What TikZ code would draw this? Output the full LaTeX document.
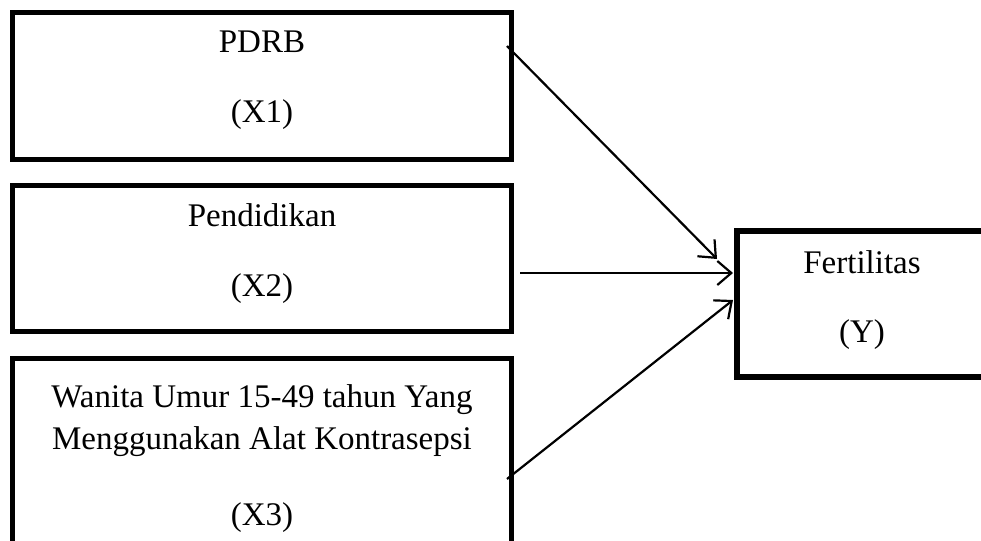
\documentclass[tikz,border=0pt]{standalone}
\usepackage{fontspec}
\setmainfont{Liberation Serif}
\usetikzlibrary{arrows.meta}
\begin{document}
\begin{tikzpicture}[x=1pt,y=-1pt,
  box/.style={draw, line width=5pt, inner sep=0pt, outer sep=0pt},
  lbl/.style={anchor=base, font=\fontsize{33}{38}\selectfont, inner sep=0pt},
  arr/.style={line width=2.2pt, -{Straight Barb[length=14pt,width=24pt,line width=2.2pt]}}]
\useasboundingbox (0,0) rectangle (981,540);
\clip (0,0) rectangle (981,540);
% boxes
\node[box, minimum width=499pt, minimum height=147pt] (b1) at (262,86) {};
\node[box, minimum width=499pt, minimum height=146pt] (b2) at (262,258.5) {};
\node[box, minimum width=499pt, minimum height=261.5pt] (b3) at (262,489.25) {};
\node[box, line width=6pt, minimum width=250pt, minimum height=146pt] (by) at (862,304) {};
% labels
\node[lbl] (l1a) at (262,53) {PDRB};
\node[lbl] (l1b) at (262,123) {(X1)};
\node[lbl] (l2a) at (262,226) {Pendidikan};
\node[lbl] (l2b) at (262,296) {(X2)};
\node[lbl] (l3a) at (262,407) {Wanita Umur 15-49 tahun Yang};
\node[lbl] (l3b) at (262,449.5) {Menggunakan Alat Kontrasepsi};
\node[lbl] (l3c) at (262,525) {(X3)};
\node[lbl] (lya) at (862,273) {Fertilitas};
\node[lbl] (lyb) at (862,342) {(Y)};
% connector ends
\coordinate (s1) at (507,46);
\coordinate (s2) at (520,273);
\coordinate (s3) at (507,479);
\coordinate (e1) at (717,259);
\coordinate (e2) at (733,273);
\coordinate (e3) at (733,300);
\draw[arr] (s1) -- (e1);
\draw[arr] (s2) -- (e2);
\draw[arr] (s3) -- (e3);
\end{tikzpicture}
\end{document}
